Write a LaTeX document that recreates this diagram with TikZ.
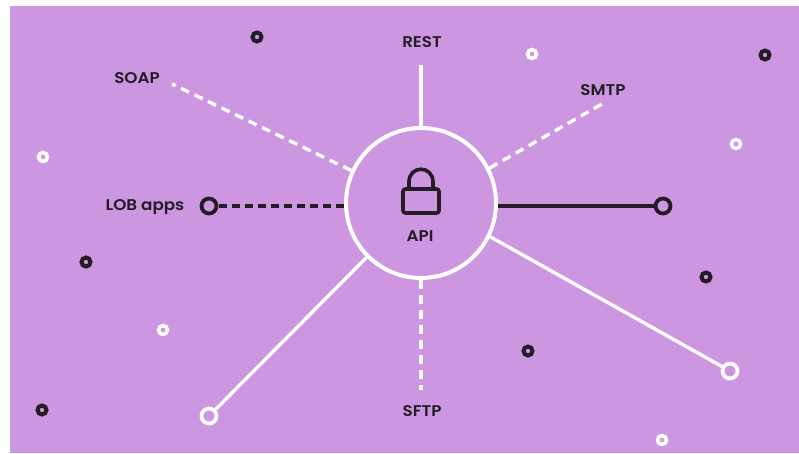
\documentclass[tikz,border=0pt]{standalone}
\usepackage{fontspec}
\setmainfont{Poppins SemiBold}[FakeStretch=1.08]
\definecolor{bgp}{HTML}{CC96E0}
\definecolor{ink}{HTML}{231C24}
\tikzset{
 x=1pt,y=-1pt,
 lbl/.style={text=ink,font=\fontsize{15.5}{17}\selectfont,inner sep=0pt},
 hub/.style={circle,draw=white,line width=4pt,minimum size=150pt,inner sep=0pt},
 wl/.style={white,line width=3.4pt},
 wd/.style={white,line width=3.4pt,dash pattern=on 9pt off 6pt},
 kl/.style={ink,line width=3.4pt},
 kd/.style={ink,line width=3.4pt,dash pattern=on 8pt off 5pt},
 bigw/.style={circle,draw=white,fill=bgp,line width=3.8pt,minimum size=15pt,inner sep=0pt},
 bigk/.style={circle,draw=ink,fill=bgp,line width=3.8pt,minimum size=15pt,inner sep=0pt},
 dotw/.style={circle,draw=white,line width=3.6pt,minimum size=9pt,inner sep=0pt},
 dotk/.style={circle,draw=ink,line width=4pt,minimum size=9pt,inner sep=0pt},
}
\begin{document}
\begin{tikzpicture}
\useasboundingbox (0,0) rectangle (799,453);
\fill[white] (0,0) rectangle (799,453);
\fill[bgp] (10,6) rectangle (799,453);
\node[hub] (h) at (421,203) {};
\coordinate (rest) at (421,65);
\coordinate (soap) at (172,84);
\coordinate (smtp) at (602,104);
\coordinate (sftp) at (421,390);
\node[bigk] (lob) at (209,206) {};
\node[bigk] (blk) at (663,206) {};
\node[bigw] (sw) at (209,416) {};
\node[bigw] (se) at (730,371) {};
\draw[wl] (h.90) -- (rest);
\draw[wd] (h.155) -- (soap);
\draw[wd] (h.27) -- (smtp);
\draw[wd] (h.270) -- (sftp);
\draw[kd] (lob -| h.west) -- (lob);
\draw[kl] (blk -| h.east) -- (blk);
\draw[wl] (h.225) -- (sw);
\draw[wl] (h.-26) -- (se);
\node[lbl] (t1) at (422,42) {REST};
\node[lbl] (t2) at (137,78) {SOAP};
\node[lbl] (t3) at (603,90) {SMTP};
\node[lbl] (t4) at (145,207) {LOB apps};
\node[lbl] (t5) at (422,411) {SFTP};
\node[lbl] (t6) at (420,236) {API};
\draw[ink,line width=3.6pt,rounded corners=2.5pt] (403,189) rectangle (439,213);
\draw[ink,line width=3.6pt] (409,189) -- (409,182) .. controls (409,165) and (433,165) .. (433,182) -- (433,189);
\foreach \n/\x/\y in {a/257/37,b/765/55,c/86/262,d/706/277,e/528/351,f/42/410}
  \node[dotk] (k\n) at (\x,\y) {};
\foreach \n/\x/\y in {a/532/54,b/43/157,c/736/144,d/163/330,e/662/440}
  \node[dotw] (w\n) at (\x,\y) {};
\end{tikzpicture}
\end{document}
